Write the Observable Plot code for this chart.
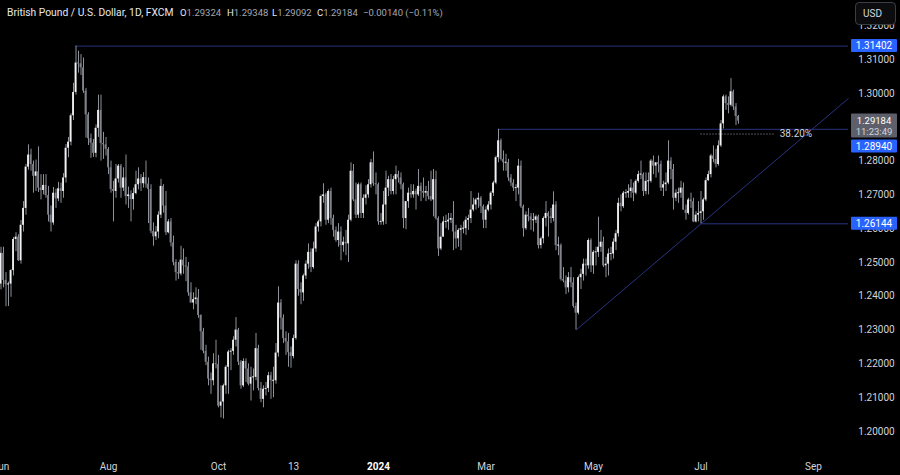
<!DOCTYPE html>
<html><head><meta charset="utf-8">
<script src="https://cdn.jsdelivr.net/npm/d3@7"></script>
<script src="https://cdn.jsdelivr.net/npm/@observablehq/plot@0.6"></script>
<style>
html,body{margin:0;padding:0;background:#000;}
#wrap{position:relative;width:900px;height:475px;overflow:hidden;background:#000;}
#hdr{position:absolute;left:0;top:0;width:600px;height:24px;font-family:Roboto,sans-serif;font-size:9.5px;color:#e6e8ee;}
#hdr span{position:absolute;top:7px;white-space:nowrap;}
#hdr .v{color:#a5a8b1;}
#usd{position:absolute;left:855px;top:2px;width:41px;height:23px;box-sizing:border-box;border:1px solid #3a3d46;border-radius:4px;background:#0c0c0e;color:#d6d8de;font-family:Roboto,sans-serif;font-size:10px;line-height:21px;padding-left:7px;}
</style></head>
<body><div id="wrap"></div>
<script>
// ---- Data: GBP/USD daily (FXCM), bar index 0 = 1 Jun 2023 ----
const open = [
1.2436,1.2527,1.2447,1.2434,1.2436,1.2476,1.2568,1.2575,1.2505,1.2610,1.2660,1.2782,1.2818,1.2790,1.2755,1.2768,1.2720,1.2713,1.2728,1.2698,1.2640,1.2617,
1.2705,1.2688,1.2718,1.2710,1.2750,1.2838,1.2856,1.2934,1.3003,1.3090,1.3088,1.3076,1.3007,1.2937,1.2866,1.2853,1.2823,1.2897,1.2950,1.2852,1.2848,
1.2835,1.2780,1.2716,1.2710,1.2747,1.2785,1.2720,1.2750,1.2695,1.2700,1.2686,1.2704,1.2730,1.2747,1.2733,1.2751,1.2732,1.2716,1.2592,1.2576,1.2590,1.2640,1.2725,
1.2667,1.2588,1.2620,1.2558,1.2500,1.2470,1.2466,1.2507,1.2490,1.2487,1.2410,1.2380,1.2390,1.2395,1.2343,1.2295,1.2237,1.2205,1.2155,1.2150,1.2200,
1.2198,1.2075,1.2087,1.2135,1.2190,1.2235,1.2237,1.2270,1.2300,1.2205,1.2135,1.2207,1.2185,1.2140,1.2160,1.2160,1.2245,1.2127,1.2095,1.2125,1.2127,1.2165,
1.2150,1.2150,1.2232,1.2380,1.2335,1.2275,1.2265,1.2233,1.2222,1.2275,1.2495,1.2420,1.2410,1.2460,1.2495,1.2530,1.2485,1.2540,1.2605,1.2620,1.2695,1.2700,
1.2625,1.2710,1.2630,1.2595,1.2565,1.2590,1.2550,1.2560,1.2555,1.2625,1.2770,1.2685,1.2640,1.2730,1.2645,1.2690,1.2700,1.2730,1.2795,1.2733,
1.2730,1.2620,1.2620,1.2670,1.2720,1.2745,1.2710,1.2745,1.2760,1.2750,1.2730,1.2630,1.2680,1.2705,1.2700,1.2710,1.2700,1.2725,1.2710,1.2705,1.2710,1.2695,
1.2685,1.2745,1.2630,1.2540,1.2575,1.2620,1.2620,1.2625,1.2630,1.2590,1.2570,1.2595,1.2600,1.2600,1.2625,1.2630,1.2655,1.2670,1.2685,1.2690,1.2665,
1.2625,1.2655,1.2670,1.2705,1.2735,1.2810,1.2860,1.2805,1.2795,1.2795,1.2750,1.2735,1.2720,1.2720,1.2785,1.2665,1.2600,1.2640,1.2635,1.2625,1.2625,
1.2635,1.2550,1.2570,1.2630,1.2645,1.2635,1.2630,1.2670,1.2550,1.2550,1.2450,1.2445,1.2425,1.2455,1.2440,1.2370,1.2350,1.2455,1.2465,1.2495,1.2490,1.2565,
1.2490,1.2530,1.2530,1.2545,1.2560,1.2490,1.2495,1.2525,1.2525,1.2560,1.2585,1.2675,1.2665,1.2705,1.2705,1.2710,1.2720,1.2705,1.2740,1.2760,1.2760,1.2710,1.2740,
1.2740,1.2800,1.2785,1.2795,1.2790,1.2720,1.2730,1.2735,1.2800,1.2775,1.2690,1.2705,1.2705,1.2720,1.2655,1.2645,1.2685,1.2680,1.2620,1.2640,
1.2645,1.2650,1.2685,1.2742,1.2760,1.2815,1.2805,1.2790,1.2845,1.2910,1.2990,1.2970,1.2965,1.3005,1.2960,1.29324];
const high = [
1.2545,1.2545,1.2470,1.2442,1.2479,1.2574,1.2588,1.2582,1.2624,1.2680,1.2790,1.2848,1.2835,1.2800,1.2803,1.2842,1.2760,1.2760,1.2760,1.2725,1.2667,1.2722,
1.2717,1.2737,1.2735,1.2763,1.2849,1.2870,1.2940,1.3030,1.31402,1.3125,1.3115,1.3105,1.3015,1.2943,1.2880,1.2864,1.2907,1.2995,1.2995,1.2885,1.2870,
1.2840,1.2800,1.2740,1.2790,1.2790,1.2790,1.2780,1.2818,1.2723,1.2712,1.2720,1.2770,1.2780,1.2760,1.2766,1.2800,1.2750,1.2730,1.2617,1.2606,1.2650,1.2746,1.2730,
1.2710,1.2627,1.2630,1.2578,1.2508,1.2500,1.2548,1.2540,1.2515,1.2500,1.2440,1.2410,1.2425,1.2420,1.2345,1.2305,1.2255,1.2220,1.2173,1.2230,1.2270,
1.2225,1.2135,1.2140,1.2195,1.2240,1.2245,1.2280,1.2337,1.2305,1.2210,1.2215,1.2215,1.2200,1.2190,1.2185,1.2290,1.2255,1.2145,1.2135,1.2145,1.2175,1.2175,
1.2190,1.2260,1.2428,1.2390,1.2345,1.2295,1.2290,1.2250,1.2285,1.2505,1.2505,1.2440,1.2465,1.2505,1.2555,1.2540,1.2560,1.2615,1.2625,1.2700,1.2733,1.2705,
1.2715,1.2720,1.2640,1.2605,1.2615,1.2605,1.2575,1.2595,1.2640,1.2795,1.2790,1.2735,1.2735,1.2735,1.2700,1.2727,1.2745,1.2805,1.2827,1.2765,
1.2735,1.2645,1.2710,1.2770,1.2755,1.2760,1.2755,1.2785,1.2770,1.2765,1.2735,1.2680,1.2720,1.2730,1.2730,1.2717,1.2775,1.2735,1.2750,1.2725,1.2740,1.2770,
1.2775,1.2770,1.2635,1.2615,1.2635,1.2640,1.2645,1.2645,1.2680,1.2610,1.2600,1.2610,1.2620,1.2635,1.2640,1.2710,1.2690,1.2690,1.2705,1.2695,1.2670,
1.2665,1.2680,1.2710,1.2740,1.2815,1.2894,1.2865,1.2830,1.2820,1.2805,1.2760,1.2745,1.2730,1.2805,1.2800,1.2670,1.2650,1.2660,1.2645,1.2645,1.2640,
1.2640,1.2575,1.2635,1.2680,1.2650,1.2660,1.2709,1.2680,1.2575,1.2555,1.2485,1.2460,1.2470,1.2485,1.2455,1.2380,1.2460,1.2480,1.2510,1.2510,1.2570,1.2570,
1.2535,1.2545,1.2634,1.2595,1.2575,1.2515,1.2540,1.2545,1.2570,1.2595,1.2690,1.2700,1.2710,1.2715,1.2730,1.2745,1.2735,1.2745,1.2770,1.2800,1.2765,1.2765,1.2765,
1.2805,1.2815,1.2795,1.2815,1.2800,1.2740,1.2765,1.2860,1.2810,1.2790,1.2715,1.2720,1.2740,1.2735,1.2670,1.2690,1.2705,1.2690,1.2650,1.2680,
1.2710,1.2690,1.2750,1.2770,1.2820,1.2845,1.2835,1.2860,1.2920,1.2995,1.2995,1.2990,1.3044,1.3010,1.2970,1.29348];
const low = [
1.2419,1.2425,1.2369,1.2370,1.2397,1.2460,1.2532,1.2503,1.2495,1.2590,1.2640,1.2773,1.2770,1.2705,1.2710,1.2707,1.2685,1.2700,1.2690,1.2620,1.2590,1.2610,
1.2660,1.2680,1.2675,1.2690,1.2735,1.2810,1.2845,1.2920,1.2995,1.3060,1.3053,1.3000,1.2868,1.2846,1.2808,1.2811,1.2810,1.2870,1.2800,1.2805,1.2815,
1.2760,1.2705,1.2620,1.2690,1.2735,1.2690,1.2710,1.2670,1.2660,1.2620,1.2655,1.2700,1.2715,1.2710,1.2720,1.2720,1.2615,1.2585,1.2548,1.2565,1.2570,1.2630,1.2646,
1.2580,1.2585,1.2546,1.2490,1.2445,1.2450,1.2460,1.2465,1.2443,1.2400,1.2380,1.2360,1.2375,1.2335,1.2240,1.2230,1.2195,1.2135,1.2110,1.2135,1.2185,
1.2070,1.2040,1.2037,1.2110,1.2110,1.2180,1.2225,1.2250,1.2195,1.2125,1.2130,1.2145,1.2135,1.2090,1.2120,1.2150,1.2120,1.2085,1.2070,1.2105,1.2115,1.2095,
1.2100,1.2140,1.2220,1.2300,1.2260,1.2225,1.2190,1.2187,1.2215,1.2270,1.2400,1.2375,1.2385,1.2450,1.2480,1.2470,1.2480,1.2530,1.2590,1.2605,1.2675,1.2610,
1.2615,1.2610,1.2575,1.2560,1.2545,1.2505,1.2530,1.2520,1.2500,1.2620,1.2680,1.2630,1.2630,1.2630,1.2630,1.2670,1.2690,1.2720,1.2725,1.2700,
1.2610,1.2610,1.2610,1.2612,1.2695,1.2700,1.2700,1.2700,1.2735,1.2715,1.2600,1.2597,1.2660,1.2690,1.2690,1.2655,1.2695,1.2680,1.2690,1.2680,1.2685,1.2680,
1.2635,1.2625,1.2518,1.2535,1.2575,1.2600,1.2595,1.2615,1.2535,1.2540,1.2545,1.2535,1.2585,1.2580,1.2595,1.2615,1.2650,1.2655,1.2660,1.2645,1.2600,
1.2600,1.2650,1.2655,1.2695,1.2730,1.2795,1.2800,1.2770,1.2770,1.2740,1.2725,1.2710,1.2680,1.2700,1.2660,1.2575,1.2595,1.2620,1.2595,1.2590,1.2615,
1.2540,1.2540,1.2555,1.2605,1.2575,1.2615,1.2620,1.2535,1.2520,1.2445,1.2440,1.2405,1.2410,1.2425,1.2365,1.2300,1.2345,1.2420,1.2445,1.2460,1.2480,1.2470,
1.2465,1.2490,1.2515,1.2530,1.2485,1.2455,1.2460,1.2505,1.2510,1.2535,1.2575,1.2650,1.2660,1.2690,1.2690,1.2690,1.2680,1.2700,1.2735,1.2745,1.2695,1.2700,1.2700,
1.2735,1.2760,1.2750,1.2765,1.2710,1.2695,1.2710,1.2730,1.2745,1.2655,1.2680,1.2675,1.2690,1.2655,1.2625,1.2640,1.2660,1.2618,1.2617,1.2620,
1.26144,1.2625,1.2680,1.2740,1.2750,1.2795,1.2780,1.2785,1.2840,1.2895,1.2950,1.2940,1.2960,1.2950,1.2905,1.29092];
const close = [
1.2527,1.2447,1.2434,1.2436,1.2476,1.2568,1.2575,1.2505,1.2610,1.2660,1.2782,1.2818,1.2790,1.2755,1.2768,1.2720,1.2713,1.2728,1.2698,1.2640,1.2617,1.2705,
1.2688,1.2718,1.2710,1.2750,1.2838,1.2856,1.2934,1.3003,1.3090,1.3088,1.3076,1.3007,1.2937,1.2866,1.2853,1.2823,1.2897,1.2950,1.2852,1.2848,1.2835,
1.2780,1.2716,1.2710,1.2747,1.2785,1.2720,1.2750,1.2695,1.2700,1.2686,1.2704,1.2730,1.2747,1.2733,1.2751,1.2732,1.2716,1.2592,1.2576,1.2590,1.2640,1.2725,1.2667,
1.2588,1.2620,1.2558,1.2500,1.2470,1.2466,1.2507,1.2490,1.2487,1.2410,1.2380,1.2390,1.2395,1.2343,1.2295,1.2237,1.2205,1.2155,1.2150,1.2200,1.2198,
1.2075,1.2087,1.2135,1.2190,1.2235,1.2237,1.2270,1.2300,1.2205,1.2135,1.2207,1.2185,1.2140,1.2160,1.2160,1.2245,1.2127,1.2095,1.2125,1.2127,1.2165,1.2150,
1.2150,1.2232,1.2380,1.2335,1.2275,1.2265,1.2233,1.2222,1.2275,1.2495,1.2420,1.2410,1.2460,1.2495,1.2530,1.2485,1.2540,1.2605,1.2620,1.2695,1.2700,1.2625,
1.2710,1.2630,1.2595,1.2565,1.2590,1.2550,1.2560,1.2555,1.2625,1.2770,1.2685,1.2640,1.2730,1.2645,1.2690,1.2700,1.2730,1.2795,1.2733,1.2730,
1.2620,1.2620,1.2670,1.2720,1.2745,1.2710,1.2745,1.2760,1.2750,1.2730,1.2630,1.2680,1.2705,1.2700,1.2710,1.2700,1.2725,1.2710,1.2705,1.2710,1.2695,1.2685,
1.2745,1.2630,1.2540,1.2575,1.2620,1.2620,1.2625,1.2630,1.2590,1.2570,1.2595,1.2600,1.2600,1.2625,1.2630,1.2655,1.2670,1.2685,1.2690,1.2665,1.2625,
1.2655,1.2670,1.2705,1.2735,1.2810,1.2860,1.2805,1.2795,1.2795,1.2750,1.2735,1.2720,1.2720,1.2785,1.2665,1.2600,1.2640,1.2635,1.2625,1.2625,1.2635,
1.2550,1.2570,1.2630,1.2645,1.2635,1.2630,1.2670,1.2550,1.2550,1.2450,1.2445,1.2425,1.2455,1.2440,1.2370,1.2350,1.2455,1.2465,1.2495,1.2490,1.2565,1.2490,
1.2530,1.2530,1.2545,1.2560,1.2490,1.2495,1.2525,1.2525,1.2560,1.2585,1.2675,1.2665,1.2705,1.2705,1.2710,1.2720,1.2705,1.2740,1.2760,1.2760,1.2710,1.2740,1.2740,
1.2800,1.2785,1.2795,1.2790,1.2720,1.2730,1.2735,1.2800,1.2775,1.2690,1.2705,1.2705,1.2720,1.2655,1.2645,1.2685,1.2680,1.2620,1.2640,1.2645,
1.2650,1.2685,1.2742,1.2760,1.2815,1.2805,1.2790,1.2845,1.2910,1.2990,1.2970,1.2965,1.3005,1.2960,1.2932,1.29184];

// ---- Axis ticks (1.29000 is hidden behind the last-price box in the original) ----
const tickIndex = [0, 43, 87, 117, 151, 194, 237, 280, 325];
const tickLabels = ["Jun", "Aug", "Oct", "13", "2024", "Mar", "May", "Jul", "Sep"];
const priceTicks = [1.20, 1.21, 1.22, 1.23, 1.24, 1.25, 1.26, 1.27, 1.28, 1.30, 1.31, 1.32];

// ---- Drawings ----
const levelPrices = [1.31402, 1.28940, 1.26144];
const levelStart = [30, 199, 280];
const trendStart = {i: 230, p: 1.2300};
const trendThrough = {i: 280, p: 1.26144};
const fibPrice = 1.2880, fibStart = 280, fibEnd = 309.5, fibLabel = "38.20%";
const lastPrice = 1.29184, countdown = "11:23:49";
const xEnd = 339;

const bars = open.map((o, i) => ({i, o, h: high[i], l: low[i], c: close[i], up: close[i] >= o}));
const minBody = 0.0003;
const bodyLo = d => { const lo = Math.min(d.o, d.c), hi = Math.max(d.o, d.c); return hi - lo < minBody ? (lo + hi) / 2 - minBody / 2 : lo; };
const bodyHi = d => { const lo = Math.min(d.o, d.c), hi = Math.max(d.o, d.c); return hi - lo < minBody ? (lo + hi) / 2 + minBody / 2 : hi; };
const levels = levelPrices.map((p, k) => ({p, s: levelStart[k]}));
const slope = (trendThrough.p - trendStart.p) / (trendThrough.i - trendStart.i);
const trend = [{x1: trendStart.i, y1: trendStart.p, x2: xEnd, y2: trendStart.p + slope * (xEnd - trendStart.i)}];

const lineColor = "#283382";
const upColor = "#f2f2f2", downColor = "#80838c", wickColor = "#8e9199";

const chart = Plot.plot({
  width: 900, height: 475,
  marginTop: 0, marginBottom: 20, marginLeft: 0, marginRight: 52,
  style: {background: "#000", color: "#d1d4dc", fontFamily: "Roboto, sans-serif", fontSize: "10px"},
  x: {domain: [-0.2, xEnd]},
  y: {domain: [1.19289, 1.32751]},
  marks: [
    Plot.axisX({ticks: tickIndex, tickFormat: d => tickLabels[tickIndex.indexOf(d)], tickSize: 0, tickPadding: 7, label: null}),
    Plot.axisY({anchor: "right", ticks: priceTicks, tickFormat: d => d.toFixed(5), tickSize: 0, tickPadding: 28, textAnchor: "middle", label: null}),
    Plot.ruleY(levels, {y: "p", x1: "s", x2: () => xEnd, stroke: lineColor, strokeWidth: 1}),
    Plot.link(trend, {x1: "x1", y1: "y1", x2: "x2", y2: "y2", stroke: lineColor, strokeWidth: 1}),
    Plot.ruleY([fibPrice], {y: d => d, x1: () => fibStart, x2: () => fibEnd, stroke: "#9a9da6", strokeWidth: 1, strokeDasharray: "1,2"}),
    Plot.text([fibLabel], {x: () => fibEnd + 2, y: () => fibPrice + 0.0001, text: d => d, textAnchor: "start", fill: "#d1d4dc", fontSize: 10}),
    Plot.ruleX(bars, {x: "i", y1: "l", y2: "h", stroke: wickColor, strokeWidth: 1}),
    Plot.rect(bars.filter(d => !d.up), {x1: d => d.i - 0.36, x2: d => d.i + 0.36, y1: bodyLo, y2: bodyHi, fill: downColor}),
    Plot.rect(bars.filter(d => d.up), {x1: d => d.i - 0.36, x2: d => d.i + 0.36, y1: bodyLo, y2: bodyHi, fill: upColor})
  ]
});

const wrap = document.getElementById("wrap");
wrap.appendChild(chart);

// bold "2024"
d3.select(chart).selectAll("text").filter(function () { return this.textContent === "2024"; })
  .attr("font-weight", "bold").attr("fill", "#ffffff");

// price label boxes on the right axis
const ys = chart.scale("y");
const g = d3.select(chart).append("g").attr("font-family", "Roboto, sans-serif").attr("font-size", 10);
function box(top, h, fill) {
  g.append("rect").attr("x", 851).attr("y", top).attr("width", 46).attr("height", h).attr("rx", 1).attr("fill", fill);
}
function label(yc, txt, col, size) {
  g.append("text").attr("x", 874).attr("y", yc).attr("dy", "0.35em").attr("text-anchor", "middle")
    .attr("font-size", size || 10).attr("fill", col).text(txt);
}
const y0 = ys.apply(levelPrices[0]);
box(y0 - 6.5, 13, "#2962ff"); label(y0, levelPrices[0].toFixed(5), "#ffffff");
const yl = ys.apply(lastPrice);
box(yl - 7, 24, "#5d606b"); label(yl, lastPrice.toFixed(5), "#ffffff", 9.5); label(yl + 11.5, countdown, "#d1d4dc", 9.5);
const yb = yl + 17 + 2;
box(yb, 13, "#2962ff"); label(yb + 6.5, levelPrices[1].toFixed(5), "#ffffff");
const y2 = ys.apply(levelPrices[2]);
box(y2 - 6.5, 13, "#2962ff"); label(y2, levelPrices[2].toFixed(5), "#ffffff");

// header and currency button
const hdr = document.createElement("div");
hdr.id = "hdr";
hdr.innerHTML =
  '<span style="left:7px;font-size:10.3px;top:6px">British Pound / U.S. Dollar, 1D, FXCM</span>' +
  '<span style="left:180px">O<span class="v" style="position:static">1.29324</span></span>' +
  '<span style="left:227px">H<span class="v" style="position:static">1.29348</span></span>' +
  '<span style="left:272px">L<span class="v" style="position:static">1.29092</span></span>' +
  '<span style="left:317px">C<span class="v" style="position:static">1.29184</span></span>' +
  '<span class="v" style="left:363px">\u22120.00140 (\u22120.11%)</span>';
wrap.appendChild(hdr);
const usd = document.createElement("div");
usd.id = "usd"; usd.textContent = "USD";
wrap.appendChild(usd);
</script>
</body></html>
